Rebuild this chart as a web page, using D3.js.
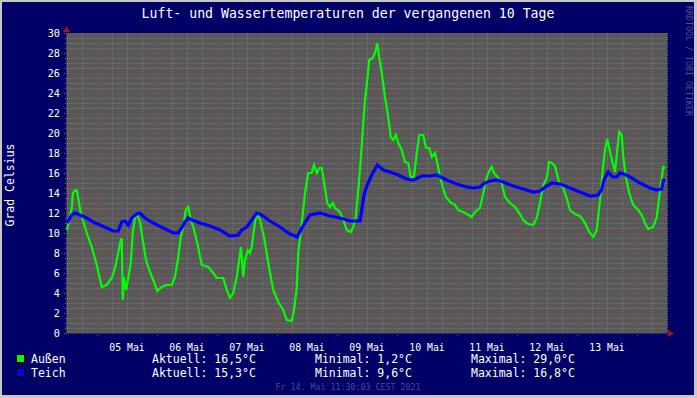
<!DOCTYPE html>
<html>
<head>
<meta charset="utf-8">
<script src="https://cdn.jsdelivr.net/npm/d3@7"></script>
<style>
  html, body { margin: 0; padding: 0; background: #c8c8c8; }
  svg { display: block; }
  text { font-family: "DejaVu Sans Mono", monospace; }
</style>
</head>
<body>
<div id="chart"></div>
<script>
// ---- Data ----
// hours after 04 Mai 12:00
const aussenHours = [0, 1.9, 2.4, 3.4, 4.0, 5.5, 7.9, 9.9, 11.9, 13.9, 15.9, 17.9, 19.2, 20.5, 21.2, 21.9, 22.3, 22.8, 23.6, 24.5,
  25.5, 26.3, 27.2, 28.1, 29.2, 30.3, 31.6, 33.2, 34.8, 36.1, 37.9, 39.9, 41.9, 43.2, 44.5, 45.5, 46.5, 47.5, 48.5, 49.5,
  50.5, 52.1, 53.9, 56.5, 58.5, 59.9, 62.5, 63.9, 65.2, 66.5, 67.9, 69.6, 70.5, 71.2, 72.3, 73.2, 73.9, 75.2, 76.1, 77.2,
  78.8, 80.5, 82.5, 84.5, 86.5, 87.9, 89.9, 90.8, 91.9, 92.5, 93.9, 95.2, 96.5, 97.9, 98.8, 99.9, 100.9, 101.9, 102.9, 104.1,
  105.2, 106.3, 107.2, 109.2, 110.5, 111.9, 113.5, 114.5, 115.6, 116.5, 117.5, 118.3, 119.2, 120.1, 120.9, 122.3, 123.2, 124.1, 124.9, 125.9,
  127.2, 128.5, 129.5, 130.5, 131.5, 132.5, 133.9, 135.2, 136.5, 137.5, 138.8, 139.9, 140.9, 142.5, 143.6, 144.9, 145.9, 147.2, 148.1, 149.2,
  150.3, 151.6, 153.2, 155.2, 156.5, 158.5, 160.5, 161.9, 163.2, 165.2, 166.5, 167.9, 168.9, 169.9, 170.8, 172.5, 173.9, 175.2, 177.2, 179.2,
  180.9, 182.5, 184.5, 186.5, 187.9, 189.2, 190.5, 191.9, 192.8, 193.9, 195.2, 196.1, 196.9, 198.5, 200.1, 201.2, 203.2, 205.2, 207.2, 208.9,
  210.5, 211.9, 213.2, 214.3, 215.2, 216.1, 217.2, 218.3, 219.2, 220.1, 220.9, 221.9, 222.5, 223.6, 224.9, 226.5, 228.5, 229.9, 231.2, 232.5,
  234.5, 235.9, 236.9, 237.9, 238.5, 239.2];
const aussenTemps = [10.3, 12.5, 14.0, 14.3, 14.2, 12.0, 10.0, 8.6, 6.8, 4.6, 4.8, 5.5, 6.5, 8.0, 9.0, 9.5, 3.3, 5.6, 4.3, 5.5,
  7.0, 10.0, 11.6, 11.8, 11.1, 9.3, 7.3, 6.1, 5.1, 4.2, 4.6, 4.8, 4.8, 5.6, 7.6, 9.6, 10.6, 12.3, 12.6, 11.3,
  10.6, 9.0, 6.8, 6.6, 6.0, 5.5, 5.5, 4.3, 3.5, 4.0, 5.6, 8.6, 5.6, 7.3, 8.3, 8.0, 8.6, 11.1, 12.0, 11.3,
  9.6, 7.0, 4.3, 3.1, 2.3, 1.3, 1.2, 2.3, 4.5, 8.0, 11.0, 14.0, 16.0, 16.0, 16.8, 16.0, 16.5, 16.5, 15.0, 13.0,
  12.6, 13.0, 12.5, 12.1, 11.3, 10.3, 10.1, 10.6, 11.8, 14.3, 17.3, 20.3, 23.3, 25.3, 27.3, 27.5, 28.0, 29.0, 27.5, 26.0,
  23.6, 21.6, 19.6, 19.3, 19.8, 19.0, 18.3, 17.1, 17.0, 15.6, 15.6, 18.0, 19.8, 19.8, 18.5, 18.5, 17.6, 18.0, 17.0, 15.6,
  14.6, 13.6, 13.1, 12.8, 12.3, 12.1, 11.8, 11.6, 12.1, 12.5, 14.0, 15.6, 16.2, 16.6, 16.0, 15.5, 15.0, 13.6, 13.0, 12.6,
  12.0, 11.3, 10.9, 10.8, 11.5, 13.0, 14.8, 15.5, 17.1, 17.0, 16.7, 15.8, 15.0, 14.5, 13.3, 12.3, 11.9, 11.7, 11.0, 10.1,
  9.6, 10.3, 13.3, 16.3, 18.3, 19.4, 18.1, 17.0, 16.1, 18.3, 20.1, 19.8, 17.6, 15.5, 14.0, 12.8, 12.3, 11.8, 11.0, 10.4,
  10.6, 11.6, 13.6, 15.5, 16.6, 16.5];

const teichHours = [0, 1.9, 3.2, 5.2, 7.9, 10.5, 13.2, 15.9, 18.5, 20.5, 21.9, 23.2, 24.5, 25.9, 27.9, 29.2, 31.2, 34.5, 38.5, 42.5,
  44.5, 45.9, 47.2, 48.5, 49.9, 53.2, 57.2, 61.2, 65.2, 68.5, 69.9, 71.9, 73.9, 75.9, 77.9, 81.2, 85.2, 89.2, 92.1, 93.9,
  95.9, 97.2, 101.2, 105.2, 109.2, 113.2, 117.2, 117.9, 118.8, 120.1, 121.9, 124.1, 126.5, 129.2, 132.5, 135.9, 138.5, 141.9, 145.2, 147.9,
  151.9, 155.9, 159.9, 162.5, 165.2, 167.2, 169.2, 171.9, 174.5, 178.5, 182.5, 186.5, 189.2, 191.2, 193.9, 197.2, 201.2, 205.2, 209.2, 212.5,
  213.9, 214.8, 216.5, 218.3, 219.9, 221.2, 222.8, 225.2, 229.2, 233.2, 235.9, 237.9, 238.5, 239.3];
const teichTemps = [11.0, 11.8, 12.0, 11.8, 11.5, 11.1, 10.8, 10.5, 10.2, 10.2, 11.1, 11.2, 10.8, 11.5, 11.9, 12.0, 11.5, 11.0, 10.5, 10.0,
  10.0, 10.5, 11.1, 11.5, 11.3, 11.0, 10.7, 10.3, 9.7, 9.8, 10.3, 10.6, 11.3, 12.0, 11.8, 11.2, 10.6, 9.9, 9.6, 10.5,
  11.3, 11.8, 12.0, 11.7, 11.5, 11.2, 11.2, 12.3, 13.8, 14.8, 15.8, 16.8, 16.3, 16.1, 15.8, 15.4, 15.3, 15.7, 15.7, 15.8,
  15.3, 14.9, 14.6, 14.5, 14.6, 15.0, 15.2, 15.3, 15.1, 14.7, 14.4, 14.1, 14.2, 14.6, 15.0, 14.9, 14.5, 14.1, 13.7, 13.8,
  14.4, 15.3, 16.1, 15.6, 15.6, 16.0, 15.9, 15.6, 15.0, 14.5, 14.3, 14.4, 15.3, 15.3];

const dayLabels = ["05 Mai", "06 Mai", "07 Mai", "08 Mai", "09 Mai", "10 Mai", "11 Mai", "12 Mai", "13 Mai"];
const seriesNames = ["Außen", "Teich"];
const seriesColors = ["#00ff00", "#0000ff"];
const aktuell = [16.5, 15.3];
const minimal = [1.2, 9.6];
const maximal = [29.0, 16.8];

const title = "Luft- und Wassertemperaturen der vergangenen 10 Tage";
const yTitle = "Grad Celsius";
const stamp = "Fr 14. Mai 11:30:03 CEST 2021";
const watermark = "RRDTOOL / TOBI OETIKER";

// ---- Setup ----
const W = 697, H = 398;
const plot = { left: 67, right: 667, top: 33, bottom: 333 };
const start = Date.UTC(2021, 4, 4, 12);
const toDate = h => new Date(start + h * 3600e3);

const x = d3.scaleUtc().domain([toDate(0), toDate(240)]).range([plot.left, plot.right]);
const y = d3.scaleLinear().domain([0, 30]).range([plot.bottom, plot.top]);
const fmt = d3.formatLocale({ decimal: ",", thousands: ".", grouping: [3], currency: ["", "€"] }).format(".1f");

const svg = d3.select('#chart').append('svg').attr('width', W).attr('height', H);

// frame
svg.append('rect').attr('width', W).attr('height', H).attr('fill', '#c8c8c8');
svg.append('rect').attr('x', 2).attr('y', 2).attr('width', W - 5).attr('height', H - 5).attr('fill', '#000066');

// canvas
svg.append('rect')
  .attr('x', plot.left).attr('y', plot.top)
  .attr('width', plot.right - plot.left).attr('height', plot.bottom - plot.top)
  .attr('fill', '#585858');

const grid = svg.append('g').attr('shape-rendering', 'crispEdges');
const minorCol = '#747474', majorCol = '#8a4c4c';

// horizontal grid
const yMinor = d3.range(0, 30.001, 0.5).filter(v => v % 2 !== 0);
const yMajor = y.ticks(15);
grid.selectAll('line.hmin').data(yMinor).join('line')
  .attr('x1', plot.left - 2).attr('x2', plot.right)
  .attr('y1', d => Math.round(y(d)) + 0.5).attr('y2', d => Math.round(y(d)) + 0.5)
  .attr('stroke', minorCol).attr('stroke-dasharray', '1,1');
grid.selectAll('line.hmaj').data(yMajor).join('line')
  .attr('x1', plot.left - 3).attr('x2', plot.right)
  .attr('y1', d => Math.round(y(d)) + 0.5).attr('y2', d => Math.round(y(d)) + 0.5)
  .attr('stroke', majorCol).attr('stroke-dasharray', '1,1');

// vertical grid
const xMinor = x.ticks(d3.utcHour.every(6)).filter(d => d.getUTCHours() !== 0);
const xMajor = x.ticks(d3.utcDay.every(1));
grid.selectAll('line.vmin').data(xMinor).join('line')
  .attr('x1', d => Math.round(x(d)) + 0.5).attr('x2', d => Math.round(x(d)) + 0.5)
  .attr('y1', plot.top).attr('y2', plot.bottom + 2)
  .attr('stroke', minorCol).attr('stroke-dasharray', '1,1');
grid.selectAll('line.vmaj').data(xMajor).join('line')
  .attr('x1', d => Math.round(x(d)) + 0.5).attr('x2', d => Math.round(x(d)) + 0.5)
  .attr('y1', plot.top).attr('y2', plot.bottom + 3)
  .attr('stroke', majorCol).attr('stroke-dasharray', '1,1');

// axes lines + arrows
grid.append('line').attr('x1', plot.left - 0.5).attr('x2', plot.left - 0.5)
  .attr('y1', plot.top - 2).attr('y2', plot.bottom + 2).attr('stroke', '#303060');
grid.append('line').attr('x1', plot.left - 2).attr('x2', plot.right + 2)
  .attr('y1', plot.bottom + 0.5).attr('y2', plot.bottom + 0.5).attr('stroke', '#303060');
svg.append('path')
  .attr('d', `M${plot.left - 4},${plot.top - 1}L${plot.left + 3},${plot.top - 1}L${plot.left - 0.5},${plot.top - 7}Z`)
  .attr('fill', '#9a1a1a');
svg.append('path')
  .attr('d', `M${plot.right + 1},${plot.bottom - 3}L${plot.right + 1},${plot.bottom + 4}L${plot.right + 7},${plot.bottom + 0.5}Z`)
  .attr('fill', '#9a1a1a');

// y labels
svg.append('g').selectAll('text').data(yMajor).join('text')
  .attr('x', 60).attr('y', d => y(d) + 3.6)
  .attr('text-anchor', 'end')
  .attr('fill', '#ffffff').style('font-size', '10.2px')
  .text(d => d);

// x labels at noon
svg.append('g').selectAll('text').data(dayLabels).join('text')
  .attr('x', (d, i) => x(d3.utcHour.offset(xMajor[i], 12)))
  .attr('y', 350.5)
  .attr('text-anchor', 'middle')
  .attr('fill', '#ffffff').style('font-size', '9.8px')
  .text(d => d);

// lines
const line = d3.line().x(d => x(d.t)).y(d => y(d.v));
const aussen = aussenHours.map((h, i) => ({ t: toDate(h), v: aussenTemps[i] }));
const teich = teichHours.map((h, i) => ({ t: toDate(h), v: teichTemps[i] }));
const gLines = svg.append('g');
gLines.append('path').datum(aussen).attr('d', line)
  .attr('fill', 'none').attr('stroke', seriesColors[0]).attr('stroke-width', 2.2);
gLines.append('path').datum(teich).attr('d', line)
  .attr('fill', 'none').attr('stroke', seriesColors[1]).attr('stroke-width', 3.2);

// title
svg.append('text').attr('x', 348).attr('y', 18).attr('text-anchor', 'middle')
  .attr('fill', '#ffffff').style('font-size', '13.2px').text(title);

// y title
svg.append('text').attr('transform', 'translate(14,185) rotate(-90)')
  .attr('text-anchor', 'middle').attr('fill', '#ffffff').style('font-size', '11.5px').text(yTitle);

// watermark
svg.append('text').attr('transform', 'translate(686,6) rotate(90)')
  .attr('fill', '#50508c').style('font-size', '8.3px').text(watermark);

// legend
const legY = [358.5, 372.5];
const leg = svg.append('g').selectAll('g').data(seriesNames).join('g');
leg.append('rect')
  .attr('x', 16.5).attr('y', (d, i) => legY[i] - 4)
  .attr('width', 8).attr('height', 8)
  .attr('fill', (d, i) => seriesColors[i]).attr('stroke', '#000').attr('stroke-width', 1);
leg.append('text').attr('x', 31).attr('y', (d, i) => legY[i] + 4)
  .attr('fill', '#ffffff').style('font-size', '11.5px').text(d => d);
leg.append('text').attr('x', 152).attr('y', (d, i) => legY[i] + 4)
  .attr('fill', '#ffffff').style('font-size', '11.5px').text((d, i) => `Aktuell: ${fmt(aktuell[i])}°C`);
leg.append('text').attr('x', 315).attr('y', (d, i) => legY[i] + 4)
  .attr('fill', '#ffffff').style('font-size', '11.5px').text((d, i) => `Minimal: ${fmt(minimal[i])}°C`);
leg.append('text').attr('x', 471).attr('y', (d, i) => legY[i] + 4)
  .attr('fill', '#ffffff').style('font-size', '11.5px').text((d, i) => `Maximal: ${fmt(maximal[i])}°C`);

// time stamp
svg.append('text').attr('x', 348).attr('y', 390).attr('text-anchor', 'middle')
  .attr('fill', '#4a4a96').style('font-size', '8.3px').text(stamp);
</script>
</body>
</html>
